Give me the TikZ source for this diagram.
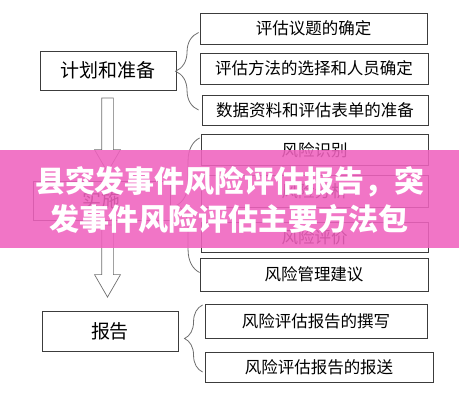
\documentclass[tikz,border=0pt]{standalone}
\usepackage{fontspec}
\setmainfont{Noto Sans CJK SC}
\usetikzlibrary{positioning,calc,shapes.arrows,decorations.pathreplacing}
\definecolor{boxline}{RGB}{60,60,60}
\definecolor{arrline}{RGB}{110,110,110}
\definecolor{banner}{RGB}{239,98,190}

\begin{document}
\begin{tikzpicture}[x=1pt, y=-1pt, stage/.style={draw=boxline, line width=0.9pt, minimum width=136pt, minimum height=39pt, inner sep=0pt, font=\fontsize{19}{19}\selectfont}, task/.style={draw=boxline, line width=0.9pt, minimum width=227pt, minimum height=31pt, inner sep=0pt, font=\fontsize{16.5}{16.5}\selectfont}, downarrow/.style={single arrow, draw=arrline, line width=0.7pt, rotate=-90, inner sep=5.5pt, minimum width=21pt, single arrow tip angle=60, single arrow head indent=0pt}, grp/.style={draw=arrline, line width=0.8pt, decorate, decoration={brace, amplitude=#1}}, grp/.default=23pt]
\useasboundingbox (0,0) rectangle (459,400);
\draw (108.0, 70.5)node[stage](plan){计划和准备};
\draw (101.5, 200.5)node[stage, minimum width=137pt](impl){实施};
\draw (110.0, 331.0)node[stage, minimum height=40pt](report){报告};
\draw (313.5, 28.5)node[task](t1){评估议题的确定};
\draw (314.0, 68.5)node[task, minimum width=228pt](t2){评估方法的选择和人员确定};
\draw (315.0, 110.0)node[task, minimum width=226pt, minimum height=30pt](t3){数据资料和评估表单的准备};
\draw (314.5, 150.0)node[task](t4){风险识别};
\draw (314.5, 191.0)node[task, minimum height=32pt](t5){风险分析};
\draw (314.5, 237.0)node[task, minimum height=30pt](t6){风险评价};
\draw (314.0, 274.5)node[task, minimum width=228pt, minimum height=33pt](t7){风险管理建议};
\draw (316.0, 321.0)node[task, minimum width=222pt, minimum height=34pt](t8){风险评估报告的撰写};
\draw (319.0, 367.0)node[task, minimum width=228pt, minimum height=30pt](t9){风险评估报告的报送};
\draw (107.5, 130.0)node[downarrow, minimum height=74pt](down1){};
\draw (107.5, 256.0)node[downarrow, minimum height=72pt](down2){};
\draw[grp] ($(t3.west -| t1.west)+(-1,0)$) -- ($(t1.west)+(-1,4)$);
\draw[grp] ($(t7.west -| t4.west)+(-1,-2)$) -- ($(t4.west)+(-1,-12)$);
\draw[grp=18pt] ($(t9.west)+(-2,5)$) -- ($(t8.west)+(-2,-16)$);
\fill[banner, opacity=0.88] (0,150) rectangle (459,248);
\draw (230.0, 182.0)node[text=white, font=\fontsize{30}{30}\selectfont\bfseries](title1){县突发事件风险评估报告，突};
\draw (229.0, 219.0)node[text=white, font=\fontsize{30}{30}\selectfont\bfseries](title2){发事件风险评估主要方法包};
\end{tikzpicture}
\end{document}
